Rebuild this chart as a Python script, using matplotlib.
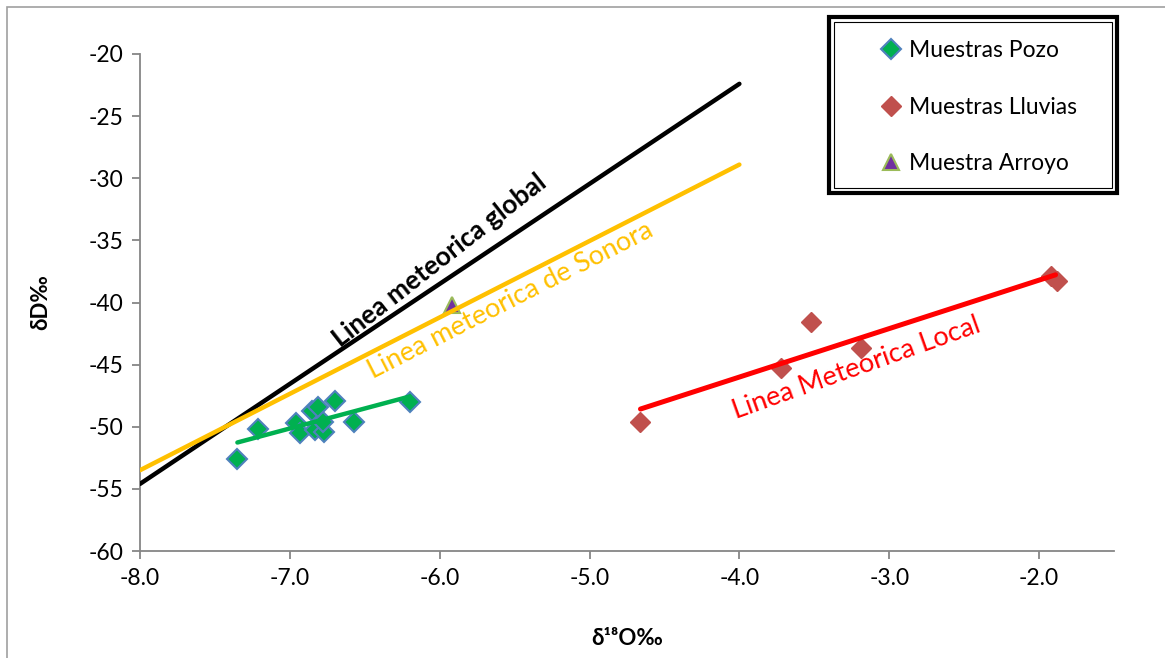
import numpy as numpy
import matplotlib
matplotlib.use('Agg')
import matplotlib.pyplot as plt
from matplotlib.patches import Rectangle

plt.rcParams['font.family'] = ['Lato', 'DejaVu Sans']
plt.rcParams['axes.unicode_minus'] = False

# muestras de pozo (d18O, dD)
pozoX = [-7.35, -7.21, -6.96, -6.93, -6.85, -6.81, -6.83, -6.77, -6.78, -6.70, -6.57, -6.20]
pozoY = [-52.6, -50.2, -49.7, -50.5, -48.7, -48.4, -50.3, -50.4, -49.6, -47.9, -49.6, -48.0]

# muestras de lluvia
lluviaX = [-4.66, -3.72, -3.52, -3.19, -1.92, -1.88]
lluviaY = [-49.6, -45.3, -41.6, -43.7, -37.9, -38.3]

# muestra de arroyo
arroyoX = [-5.92]
arroyoY = [-40.2]

# lineas (pendiente, ordenada, rango en x)
globalLine = (8.05, 9.8, (-8.0, -4.0))
sonoraLine = (6.15, -4.3, (-8.0, -4.0))
pozoLine = (3.22, -27.6, (-7.35, -6.20))
localLine = (3.9, -30.4, (-4.66, -1.89))

xTicks = [-8.0, -7.0, -6.0, -5.0, -4.0, -3.0, -2.0]
yTicks = [-20, -25, -30, -35, -40, -45, -50, -55, -60]


def drawLine(ax, line, color, width):
    slope, inter, (x0, x1) = line
    xs = numpy.array([x0, x1])
    ax.plot(xs, slope * xs + inter, color=color, linewidth=width, solid_capstyle='round', zorder=4)


def main():
    fig = plt.figure(figsize=(11.65, 6.58), dpi=100)
    W, H = 1165, 658
    ax = fig.add_axes([140 / W, 1 - 551 / H, (1114 - 140) / W, (551 - 54) / H])

    # bordes del grafico
    fig.patches.append(Rectangle((7 / W, -0.1), 1.2, 1 - 7 / H + 0.1, transform=fig.transFigure,
                                 fill=False, edgecolor='#a0a0a0', linewidth=1.2))
    fig.patches.append(Rectangle((829 / W, 1 - 193 / H), 288 / W, 176 / H, transform=fig.transFigure,
                                 fill=True, facecolor='white', edgecolor='black', linewidth=3, zorder=5))
    fig.patches.append(Rectangle((834 / W, 1 - 188 / H), 278 / W, 166 / H, transform=fig.transFigure,
                                 fill=False, edgecolor='black', linewidth=0.8, zorder=6))

    hPozo, = ax.plot(pozoX, pozoY, linestyle='none', marker='D', markersize=10,
                     markerfacecolor='#00B050', markeredgecolor='#4F81BD', markeredgewidth=1.5,
                     label='Muestras Pozo', zorder=3)
    hLluvia, = ax.plot(lluviaX, lluviaY, linestyle='none', marker='D', markersize=10,
                       markerfacecolor='#C0504D', markeredgecolor='#C0504D', markeredgewidth=1.0,
                       label='Muestras Lluvias', zorder=3)
    hArroyo, = ax.plot(arroyoX, arroyoY, linestyle='none', marker='^', markersize=11,
                       markerfacecolor='#7030A0', markeredgecolor='#9BBB59', markeredgewidth=1.5,
                       label='Muestra Arroyo', zorder=3)

    drawLine(ax, globalLine, 'black', 3.2)
    drawLine(ax, sonoraLine, '#FFC000', 3.2)
    drawLine(ax, pozoLine, '#00B050', 3.2)
    drawLine(ax, localLine, '#FF0000', 3.6)

    ax.text(-6.00, -36.6, 'Linea meteorica global', rotation=38, rotation_mode='anchor',
            ha='center', va='center', fontsize=19, fontweight='bold', color='black', zorder=6)
    ax.text(-5.53, -39.8, 'Linea meteorica de Sonora', rotation=27, rotation_mode='anchor',
            ha='center', va='center', fontsize=19.5, color='#FFC000', zorder=6)
    ax.text(-3.22, -45.3, 'Linea Meteorica Local', rotation=19.6, rotation_mode='anchor',
            ha='center', va='center', fontsize=19.5, color='#FF0000', zorder=6)

    ax.set_xlim(-8.0, -1.5)
    ax.set_ylim(-60, -20)
    ax.set_xticks(xTicks)
    ax.set_xticklabels([f'{v:.1f}' for v in xTicks])
    ax.set_yticks(yTicks)
    ax.spines['top'].set_visible(False)
    ax.spines['right'].set_visible(False)
    for side in ['left', 'bottom']:
        ax.spines[side].set_color('#868686')
        ax.spines[side].set_linewidth(1.3)
    ax.tick_params(axis='both', direction='out', length=6, width=1.3, color='#868686',
                   labelsize=16.5, pad=6)

    ax.set_xlabel('δ¹⁸O‰', fontsize=16, fontweight='bold', labelpad=28)
    ax.set_ylabel('δD‰', fontsize=16, fontweight='bold', labelpad=27)

    leg = fig.legend(handles=[hPozo, hLluvia, hArroyo], loc='upper left',
                     bbox_to_anchor=(868 / W, 1 - 29 / H), frameon=False, fontsize=16.5,
                     handlelength=1.0, handletextpad=0.3, labelspacing=1.55, borderpad=0)
    leg.set_zorder(7)

    fig.savefig('out.png', dpi=100)


if (__name__ == "__main__"):
    main()
